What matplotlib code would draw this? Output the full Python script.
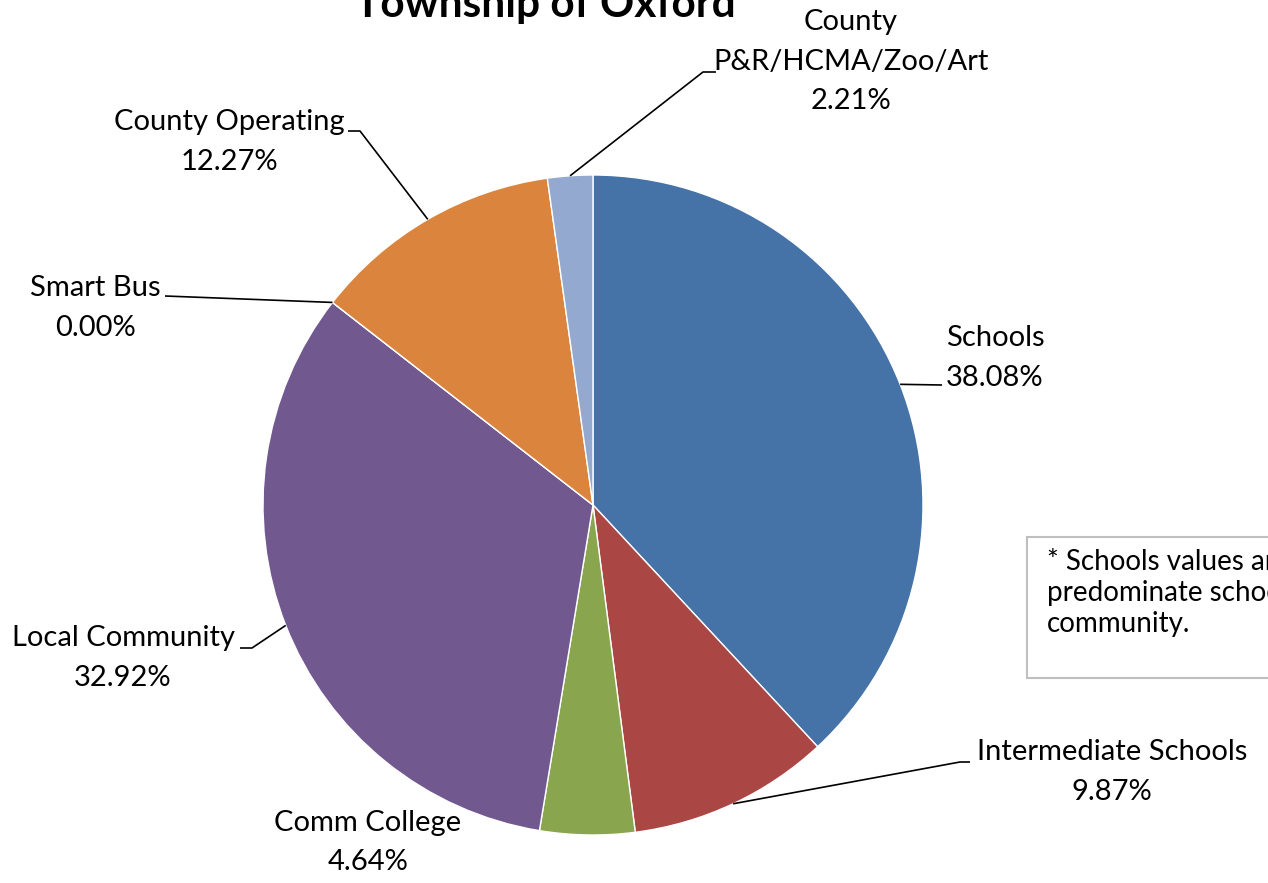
import numpy as np
import matplotlib
matplotlib.use("Agg")
import matplotlib.pyplot as plt
from matplotlib.patches import Rectangle

plt.rcParams['font.family'] = ['Lato', 'DejaVu Sans']

categories = ["Schools", "Intermediate Schools", "Comm College", "Local Community",
              "Smart Bus", "County Operating", "County\nP&R/HCMA/Zoo/Art"]
values = [38.08, 9.87, 4.64, 32.92, 0.00, 12.27, 2.21]
colors = ["#4572A7", "#AA4643", "#89A54E", "#71588F", "#4198AF", "#DB843D", "#93A9CF"]
title = "Township of Oxford"
note_lines = ["* Schools values are based on the",
              "predominate school district in the",
              "community."]

W, H = 1268, 883
fig = plt.figure(figsize=(W / 100, H / 100), dpi=100)
ax = fig.add_axes([0, 0, 1, 1])

def Y(y):
    return H - y

cx, cy, R = 593, Y(505), 330
ax.pie(values, colors=colors, startangle=90, counterclock=False,
       center=(cx, cy), radius=R,
       wedgeprops=dict(edgecolor="white", linewidth=1.0))
ax.set_xlim(0, W)
ax.set_ylim(0, H)
ax.set_aspect("equal")
ax.axis("off")

# label layout: (text center x, first line center y (top-down), elbow points)
layout = [
    dict(tx=995, ty=338, path=[(942, 385)]),
    dict(tx=1112, ty=752, path=[(960, 762), (970, 762)]),
    dict(tx=368, ty=823, path=None),
    dict(tx=123, ty=638, path=[(252, 648), (240, 648)]),
    dict(tx=95, ty=288, path=[(165, 296)]),
    dict(tx=229, ty=122, path=[(360, 131), (348, 131)]),
    dict(tx=851, ty=22, path=[(703, 72), (716, 72)]),
]

fs = 21
lh = 39.5
total = sum(values)
cum = 0.0
for cat, v, lay in zip(categories, values, layout):
    mid = (cum + v / 2) / total * 360.0
    cum += v
    ang = np.deg2rad(90 - mid)
    ax_, ay_ = cx + R * np.cos(ang), cy + R * np.sin(ang)
    lines = cat.split("\n") + [f"{v:.2f}%"]
    for i, ln in enumerate(lines):
        ax.text(lay["tx"], Y(lay["ty"] + lh * i), ln, ha="center", va="center",
                fontsize=fs, color="black")
    if lay["path"]:
        xs = [ax_] + [p[0] for p in lay["path"]]
        ys = [ay_] + [Y(p[1]) for p in lay["path"]]
        ax.plot(xs, ys, color="black", linewidth=1.2, solid_capstyle="butt")

# title
ax.text(545, Y(17), title, ha="center", va="baseline", fontsize=30.5,
        fontweight="bold", color="black")

# note box
ax.add_patch(Rectangle((1027, Y(678)), 400, 141, facecolor="white",
                       edgecolor="#BFBFBF", linewidth=1.5, clip_on=True))
for i, line in enumerate(note_lines):
    ax.text(1047, Y(562 + 31 * i), line, ha="left", va="center",
            fontsize=20, color="black")

fig.savefig("out.png", dpi=100)
